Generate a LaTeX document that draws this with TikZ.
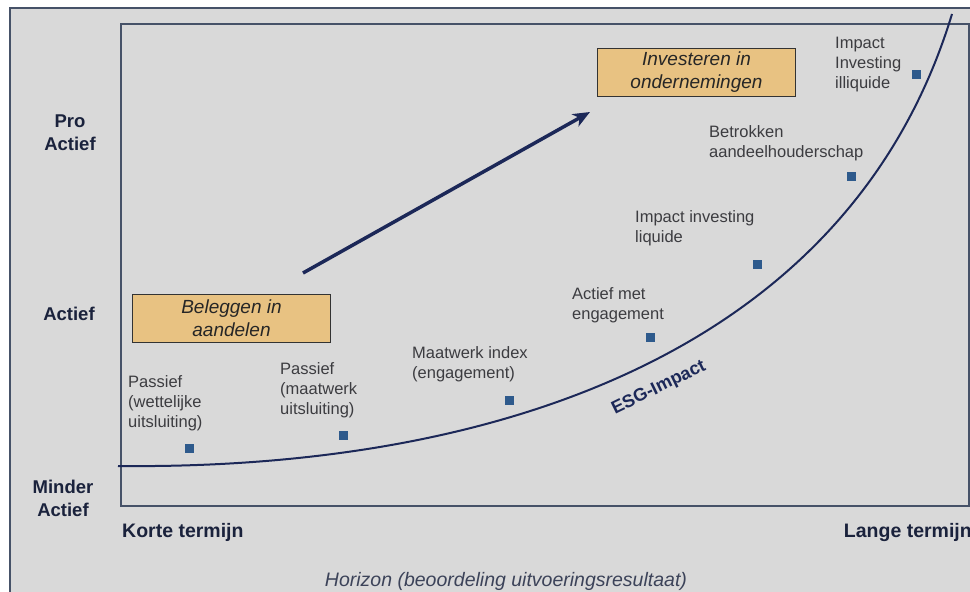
\documentclass[tikz,border=0pt]{standalone}
\usepackage{xcolor}
\usepackage{fontspec}
\setmainfont{Liberation Sans}
\usepackage{tikz}
\definecolor{panelGray}{RGB}{217, 217, 217}
\definecolor{frameSlate}{RGB}{70, 82, 104}
\definecolor{curveNavy}{RGB}{28, 40, 88}
\definecolor{axisInk}{RGB}{26, 34, 60}
\definecolor{labelInk}{RGB}{60, 60, 64}
\definecolor{markerBlue}{RGB}{46, 90, 140}
\definecolor{boxTan}{RGB}{232, 194, 130}
\usetikzlibrary{arrows.meta, positioning}

\begin{document}
\begin{tikzpicture}[
    x=1pt, y=-1pt,
    axislabel/.style={font=\fontsize{18.5}{23}\selectfont\bfseries, text=axisInk, align=center, inner sep=0},
    termlabel/.style={font=\fontsize{19.5}{23}\selectfont\bfseries, text=axisInk, inner sep=0},
    pointlabel/.style={font=\fontsize{16.5}{20}\selectfont, text=labelInk, align=left, inner sep=0, anchor=north west},
    marker/.style={rectangle, fill=markerBlue, minimum size=9pt, inner sep=0},
    theme/.style={rectangle, draw=black!80, line width=1pt, fill=boxTan, minimum width=198pt, minimum height=48pt, align=center, inner sep=0, font=\fontsize{19}{23}\selectfont\itshape, text=black!85}
]
    \useasboundingbox (0,0) rectangle (970,592);
    \clip (0,0) rectangle (970,592);

    % Panel and plot area
    \draw[frameSlate, line width=2pt, fill=panelGray] (10,8) rectangle (990,610);
    \draw[frameSlate, line width=1.4pt] (121,24) rectangle (969,506);

    % Axis labels
    \node[axislabel, anchor=north] (proactief) at (70,115) {Pro\\Actief};
    \node[axislabel, anchor=north] (actief) at (69,307) {Actief};
    \node[axislabel, anchor=north] (minderactief) at (63,480) {Minder\\Actief};
    \node[termlabel, anchor=north west] (kort) at (122,523) {Korte termijn};
    \node[termlabel, anchor=north east] (lang) at (972,523) {Lange termijn};
    \node[font=\fontsize{19.5}{23}\selectfont\itshape, text=axisInk!85, anchor=north] (horizon) at (506,569) {Horizon (beoordeling uitvoeringsresultaat)};

    % Themes
    \node[theme, anchor=north west] (beleggen) at (132,294) {Beleggen in\\aandelen};
    \node[theme, anchor=north west] (investeren) at (597,48) {Investeren in\\ondernemingen};

    % Trend arrow
    \coordinate (trendstart) at (303,273);
    \coordinate (trendend) at (590,112);
    \draw[curveNavy, line width=3.5pt, -{Stealth[length=17pt, width=14pt, inset=5pt]}] (trendstart) -- (trendend);

    % ESG curve
    \coordinate (esgstart) at (118,466);
    \coordinate (esgend) at (952,14);
    \draw[curveNavy, line width=2pt] (esgstart) .. controls (500,470) and (850,350) .. (esgend);
    \node[font=\fontsize{18}{20}\selectfont\bfseries, text=curveNavy, rotate=26] (esg) at (659,388) {ESG-Impact};

    % Strategies
    \node[marker] (p1) at (189,448) {};
    \node[marker] (p2) at (343,435) {};
    \node[marker] (p3) at (509,400) {};
    \node[marker] (p4) at (650,337) {};
    \node[marker] (p5) at (757,264) {};
    \node[marker] (p6) at (851,176) {};
    \node[marker] (p7) at (916,74) {};

    \node[pointlabel] (l1) at (128,375) {Passief\\(wettelijke\\uitsluiting)};
    \node[pointlabel] (l2) at (280,362) {Passief\\(maatwerk\\uitsluiting)};
    \node[pointlabel] (l3) at (412,346) {Maatwerk index\\(engagement)};
    \node[pointlabel] (l4) at (572,287) {Actief met\\engagement};
    \node[pointlabel] (l5) at (635,210) {Impact investing\\liquide};
    \node[pointlabel] (l6) at (709,125) {Betrokken\\aandeelhouderschap};
    \node[pointlabel] (l7) at (835,37) {Impact\\Investing\\illiquide};
\end{tikzpicture}
\end{document}
